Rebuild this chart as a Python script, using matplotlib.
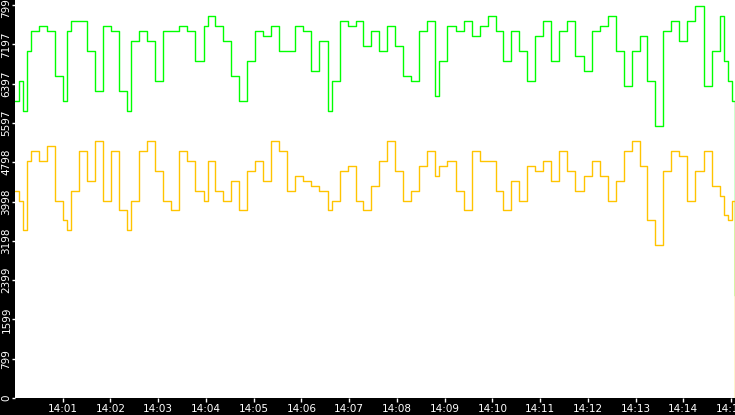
import matplotlib
matplotlib.use("Agg")
import matplotlib.pyplot as plt
import numpy as np

# seconds after 14:00:00
times = [0, 5, 10, 15, 20, 30, 40, 50, 60, 65,
         70, 81, 91, 101, 111, 121, 131, 141, 146, 156,
         166, 176, 186, 196, 206, 216, 226, 237, 242, 252,
         262, 272, 282, 292, 302, 312, 322, 332, 342, 352,
         362, 372, 382, 393, 398, 408, 418, 428, 438, 448,
         458, 468, 478, 488, 498, 508, 518, 528, 533, 543,
         554, 564, 574, 584, 594, 604, 614, 624, 634, 644,
         654, 664, 674, 684, 694, 704, 715, 725, 735, 745,
         755, 765, 775, 785, 795, 805, 815, 825, 835, 845,
         855, 866, 876, 886, 891, 896, 901, 905]

green = [6049, 6455, 5846, 7064, 7470, 7572, 7470, 6557, 6049, 7470,
         7673, 7673, 7064, 6252, 7572, 7470, 6252, 5846, 7267, 7470,
         7267, 6455, 7470, 7470, 7572, 7470, 6861, 7572, 7775, 7572,
         7267, 6557, 6049, 6861, 7470, 7369, 7572, 7064, 7064, 7572,
         7470, 6658, 7267, 5846, 6455, 7673, 7572, 7673, 7166, 7470,
         7064, 7572, 7166, 6557, 6455, 7470, 7673, 6151, 6861, 7572,
         7470, 7673, 7369, 7572, 7775, 7470, 6861, 7470, 7064, 6455,
         7369, 7673, 6861, 7470, 7673, 6963, 6658, 7470, 7572, 7775,
         7064, 6354, 7064, 7369, 6455, 5542, 7470, 7673, 7267, 7673,
         7978, 6354, 7064, 7775, 6861, 6455, 6049, 2091]

yellow = [4222, 4019, 3410, 4831, 5034, 4831, 5136, 4019, 3613, 3410,
          4222, 5034, 4425, 5237, 4019, 5034, 3816, 3410, 4019, 5034,
          5237, 4628, 4019, 3816, 5034, 4831, 4222, 4019, 4831, 4222,
          4019, 4425, 3816, 4628, 4831, 4425, 5237, 5034, 4222, 4527,
          4425, 4324, 4222, 3816, 4019, 4628, 4730, 4019, 3816, 4324,
          4831, 5237, 4628, 4019, 4222, 4730, 5034, 4527, 4730, 4831,
          4222, 3816, 5034, 4831, 4831, 4222, 3816, 4425, 4019, 4730,
          4628, 4831, 4425, 5034, 4628, 4222, 4527, 4831, 4527, 4019,
          4425, 5034, 5237, 4730, 3613, 3106, 4628, 5034, 4933, 4019,
          4628, 5034, 4324, 4121, 3715, 3613, 4019, 0]

ytick_labels = ["0", "799", "1599", "2399", "3198", "3998", "4798",
                "5597", "6397", "7197", "7997"]
xtick_labels = ["14:01", "14:02", "14:03", "14:04", "14:05", "14:06", "14:07",
                "14:08", "14:09", "14:10", "14:11", "14:12", "14:13", "14:14", "14:15"]

fig = plt.figure(figsize=(7.35, 4.15), dpi=100, facecolor="black")
ax = fig.add_axes([15 / 735, 17 / 415, 720 / 735, 398 / 415])
ax.set_facecolor("white")

ax.plot(times, green, drawstyle="steps-post", color="#00ff00", linewidth=1.0)
ax.plot(times, yellow, drawstyle="steps-post", color="#ffc400", linewidth=1.0)

ax.set_xlim(0, 905)
ax.set_ylim(0, 8100)
ax.set_yticks(np.arange(len(ytick_labels)) * 799.7)
ax.set_yticklabels(ytick_labels, rotation=90, va="center")
ax.set_xticks(np.arange(1, len(xtick_labels) + 1) * 60)
ax.set_xticklabels(xtick_labels)
ax.tick_params(colors="white", labelsize=7.5, width=1)
ax.tick_params(axis="y", length=2, pad=0.5)
ax.tick_params(axis="x", length=3, pad=1)
for s in ax.spines.values():
    s.set_visible(False)

fig.savefig("out.png", dpi=100, facecolor="black")
